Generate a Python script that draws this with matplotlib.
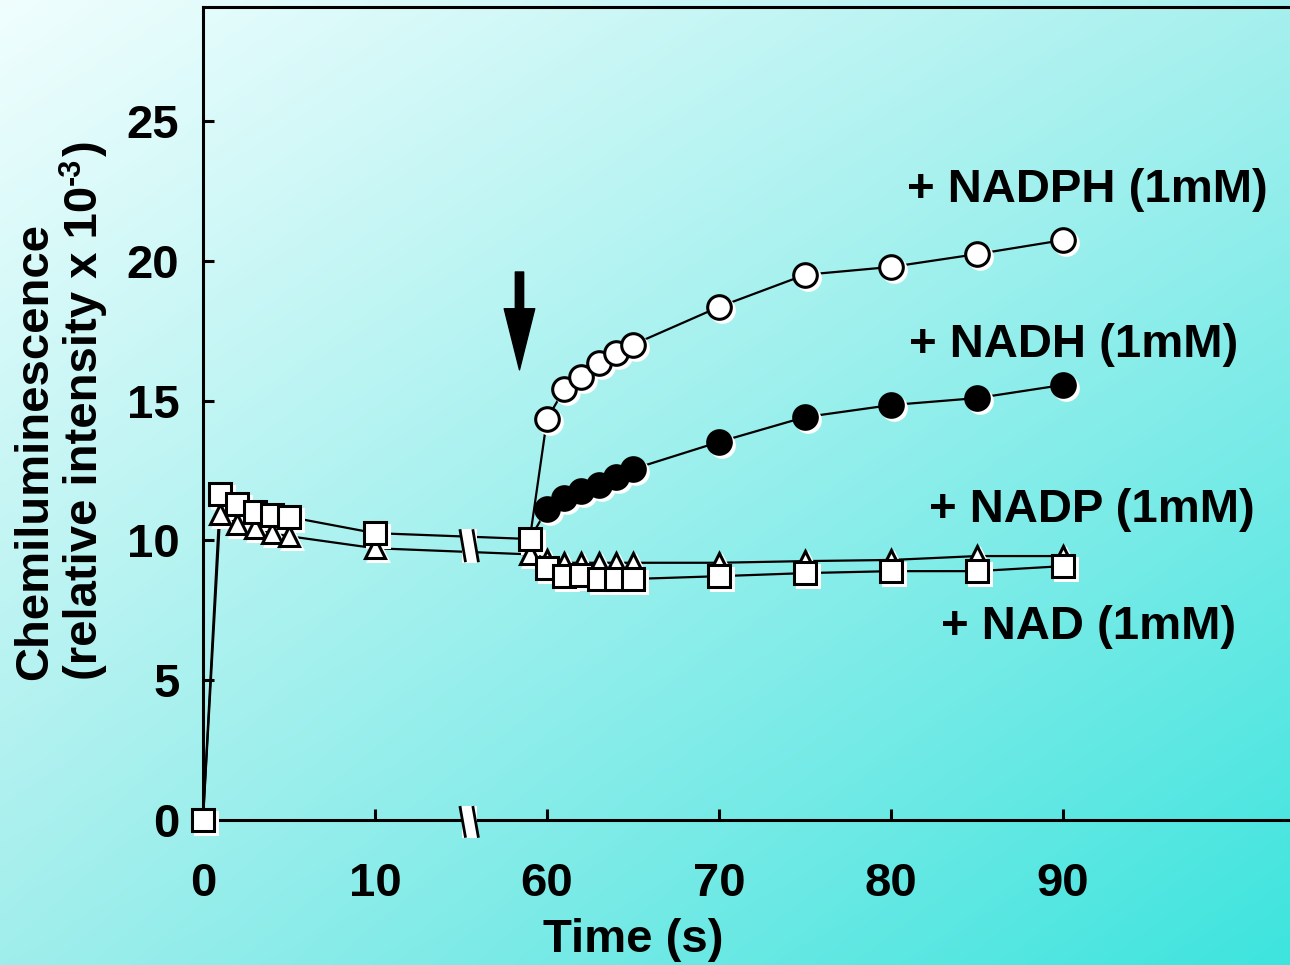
import numpy as np
import matplotlib
matplotlib.use("Agg")
import matplotlib.pyplot as plt
import matplotlib.transforms as mtransforms
from matplotlib.patches import Rectangle

plt.rcParams["font.family"] = ["Liberation Sans", "DejaVu Sans"]
plt.rcParams["font.weight"] = "bold"

# ── data (time in s, chemiluminescence x 10^-3) ──────────────────────────────
t_nad   = [0, 1, 2, 3, 4, 5, 10, 59, 60, 61, 62, 63, 64, 65, 70, 75, 80, 85, 90]
y_nad   = [0, 11.66, 11.3, 11.0, 10.9, 10.84, 10.26, 10.05,
           9.0, 8.72, 8.78, 8.62, 8.62, 8.62, 8.72, 8.83, 8.9, 8.9, 9.08]

t_nadp  = [0, 1, 2, 3, 4, 5, 10, 59, 60, 61, 62, 63, 64, 65, 70, 75, 80, 85, 90]
y_nadp  = [0, 10.94, 10.6, 10.45, 10.25, 10.15, 9.72, 9.5,
           9.3, 9.2, 9.2, 9.2, 9.2, 9.2, 9.2, 9.26, 9.3, 9.44, 9.44]

t_nadph = [59, 60, 61, 62, 63, 64, 65, 70, 75, 80, 85, 90]
y_nadph = [10.05, 14.34, 15.4, 15.84, 16.34, 16.7, 17.0, 18.35, 19.5, 19.78, 20.24, 20.74]

t_nadh  = [59, 60, 61, 62, 63, 64, 65, 70, 75, 80, 85, 90]
y_nadh  = [10.05, 11.12, 11.5, 11.77, 11.98, 12.27, 12.55, 13.52, 14.41, 14.84, 15.09, 15.56]

x_ticks  = [0, 10, 60, 70, 80, 90]
y_ticks  = [0, 5, 10, 15, 20, 25]
arrow_t  = 58.4

labels = ["+ NADPH (1mM)", "+ NADH (1mM)", "+ NADP (1mM)", "+ NAD (1mM)"]

# broken time axis: 0-15 s kept, 55 s onward shifted left by 40
BREAK = 15.35
def tx(t):
    t = np.asarray(t, dtype=float)
    return np.where(t <= 15.5, t, t - 40.0)

W, H = 1290, 965
fig = plt.figure(figsize=(W / 100, H / 100), dpi=100)

# gradient background
bg = fig.add_axes([0, 0, 1, 1], zorder=-10)
bg.axis("off")
tl = np.array([240, 254, 254]) / 255
tr = np.array([166, 240, 238]) / 255
bl = np.array([160, 238, 236]) / 255
br = np.array([62, 228, 222]) / 255
u = np.linspace(0, 1, 200)[None, :, None]
v = np.linspace(0, 1, 150)[:, None, None]
img = (1 - v) * ((1 - u) * tl + u * tr) + v * ((1 - u) * bl + u * br)
bg.imshow(img, aspect="auto", extent=[0, 1, 0, 1], interpolation="bilinear")
bg.set_xlim(0, 1); bg.set_ylim(0, 1)

x0, x1 = 203, 1290
yb, yt = 820, 7
ax = fig.add_axes([x0 / W, (H - yb) / H, (x1 - x0) / W, (yb - yt) / H])
ax.set_facecolor("none")
ax.set_xlim(0, (x1 - x0) / 17.2)
ax.set_ylim(0, (yb - yt) / 27.96)

for s in ["left", "bottom", "top"]:
    ax.spines[s].set_linewidth(2.2)
ax.spines["right"].set_visible(False)

ax.set_xticks(tx(x_ticks))
ax.set_xticklabels([str(v) for v in x_ticks])
ax.set_yticks(y_ticks)
ax.tick_params(axis="both", direction="in", width=2.2, labelsize=34)
ax.tick_params(axis="x", length=8, pad=30)
ax.tick_params(axis="y", length=8, pad=17)
for lab in ax.get_xticklabels() + ax.get_yticklabels():
    lab.set_fontweight("bold")

shadow = mtransforms.offset_copy(ax.transData, fig=fig, x=3, y=-3, units="dots")


def series(t, y, marker, ms, face, skip_first=False):
    xs = tx(t)
    ax.plot(xs, y, color="black", lw=1.6, zorder=3, clip_on=False)
    idx = list(range(1, len(xs))) if skip_first else list(range(len(xs)))
    xm = xs[idx]; ym = np.asarray(y)[idx]
    ax.plot(xm, ym, ls="none", marker=marker, ms=ms, mfc="white", mec="white",
            mew=2.2, transform=shadow, zorder=4, clip_on=False)
    ax.plot(xm, ym, ls="none", marker=marker, ms=ms, mfc=face, mec="black",
            mew=2.2, zorder=5, clip_on=False)


series(t_nadp, y_nadp, "^", 14, "white")
series(t_nad, y_nad, "s", 16.5, "white")
series(t_nadph, y_nadph, "o", 17, "white", skip_first=True)
series(t_nadh, y_nadh, "o", 17, "black", skip_first=True)

# break marks on the axis and on the data lines
def break_mark(yc, h_up, h_dn):
    ax.add_patch(Rectangle((BREAK - 0.3, yc - h_dn), 0.9, h_up + h_dn,
                           facecolor="white", edgecolor="none", zorder=6,
                           clip_on=False))
    for dx in (-0.25, 0.5):
        ax.plot([BREAK + dx - 0.15, BREAK + dx + 0.15], [yc + h_up * 0.9, yc - h_dn * 0.9],
                color="black", lw=2, zorder=7, clip_on=False)

break_mark(0, 0.5, 0.65)
break_mark(9.9, 0.5, 0.7)

# arrow marking the addition
ax.annotate("", xy=(tx(arrow_t), 16.1), xytext=(tx(arrow_t), 19.6),
            arrowprops=dict(width=6, headwidth=22, headlength=44,
                            facecolor="black", edgecolor="black"), zorder=8)

# series labels
lab_pos = [(1268, 190), (1238, 345), (1255, 510), (1236, 627)]
for txt, (px, py) in zip(labels, lab_pos):
    fig.text(px / W, 1 - py / H, txt, ha="right", va="center", fontsize=34,
             fontweight="bold")

fig.text(633 / W, 1 - 940 / H, "Time (s)", ha="center", va="center",
         fontsize=34, fontweight="bold")
fig.text(35 / W, 1 - 680 / H, "Chemiluminescence", rotation=90, ha="center",
         va="bottom", fontsize=34, fontweight="bold")

# second label line with a hyphen superscript, pieced together
renderer = fig.canvas.get_renderer()
t1 = fig.text(85 / W, 1 - 680 / H, "(relative intensity x 10", rotation=90,
              ha="center", va="bottom", fontsize=34, fontweight="bold")
top = t1.get_window_extent(renderer).y1
t2 = fig.text(72 / W, (top + 1) / H, "-3", rotation=90, ha="center",
              va="bottom", fontsize=22, fontweight="bold")
top2 = t2.get_window_extent(renderer).y1
fig.text(85 / W, (top2 + 1) / H, ")", rotation=90, ha="center",
         va="bottom", fontsize=34, fontweight="bold")

fig.savefig("out.png", dpi=100)
